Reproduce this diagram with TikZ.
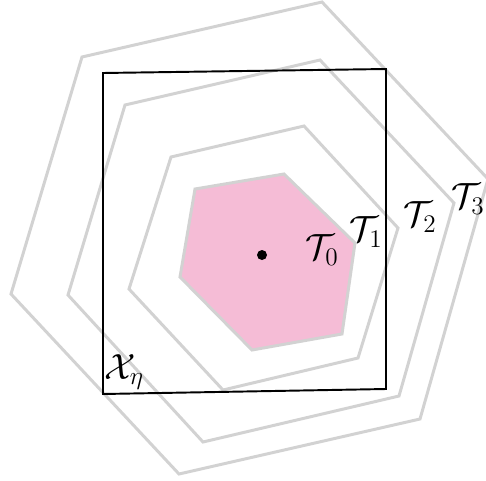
\documentclass[tikz,border=0pt]{standalone}
\usepackage{amsmath,amssymb}
\usepackage{tikz}
\usetikzlibrary{calc,positioning}

\begin{document}
\begin{tikzpicture}[
    x={(0.02cm,0cm)}, y={(0cm,-0.02cm)},
    every node/.style={font=\huge},
    hull/.style={draw=hullgray, line width=1.7pt, line join=miter},
    box/.style={draw=black, line width=1.1pt},
  ]
    \definecolor{hullgray}{HTML}{D2D2D2}
    \definecolor{cellpink}{HTML}{F5BCD6}

    \useasboundingbox (0,0) rectangle (486,480);
    \clip (0,0) rectangle (486,480);

    % -------- nested hulls T_3, T_2, T_1 --------
    \draw[hull] (82,57) -- (322,2) -- (488,179) -- (420,419) -- (179,474) -- (11,294) -- cycle;
    \draw[hull] (125,105) -- (320,60) -- (454,203) -- (399,396) -- (203,442) -- (68,295) -- cycle;
    \draw[hull] (171,157) -- (304,126) -- (398,228) -- (358,358) -- (223,390) -- (129,289) -- cycle;

    % -------- innermost cell T_0 --------
    \filldraw[hull, fill=cellpink] (195,189) -- (284,174) -- (355,243) -- (342,334) -- (252,350) -- (180,277) -- cycle;

    % -------- domain X_eta --------
    \draw[box] (103,73) -- (386,69) -- (386,389) -- (103,394) -- cycle;

    % -------- point and labels --------
    \node[circle, fill=black, inner sep=0pt, minimum size=0.2cm] (seed) at (262,255) {};
    \node (labT0) at (322,250) {$\mathcal{T}_0$};
    \node (labT1) at (366,232) {$\mathcal{T}_1$};
    \node (labT2) at (420,217) {$\mathcal{T}_2$};
    \node (labT3) at (468,199) {$\mathcal{T}_3$};
    \node (labX) at (124,372) {$\mathcal{X}_\eta$};
  \end{tikzpicture}
\end{document}
